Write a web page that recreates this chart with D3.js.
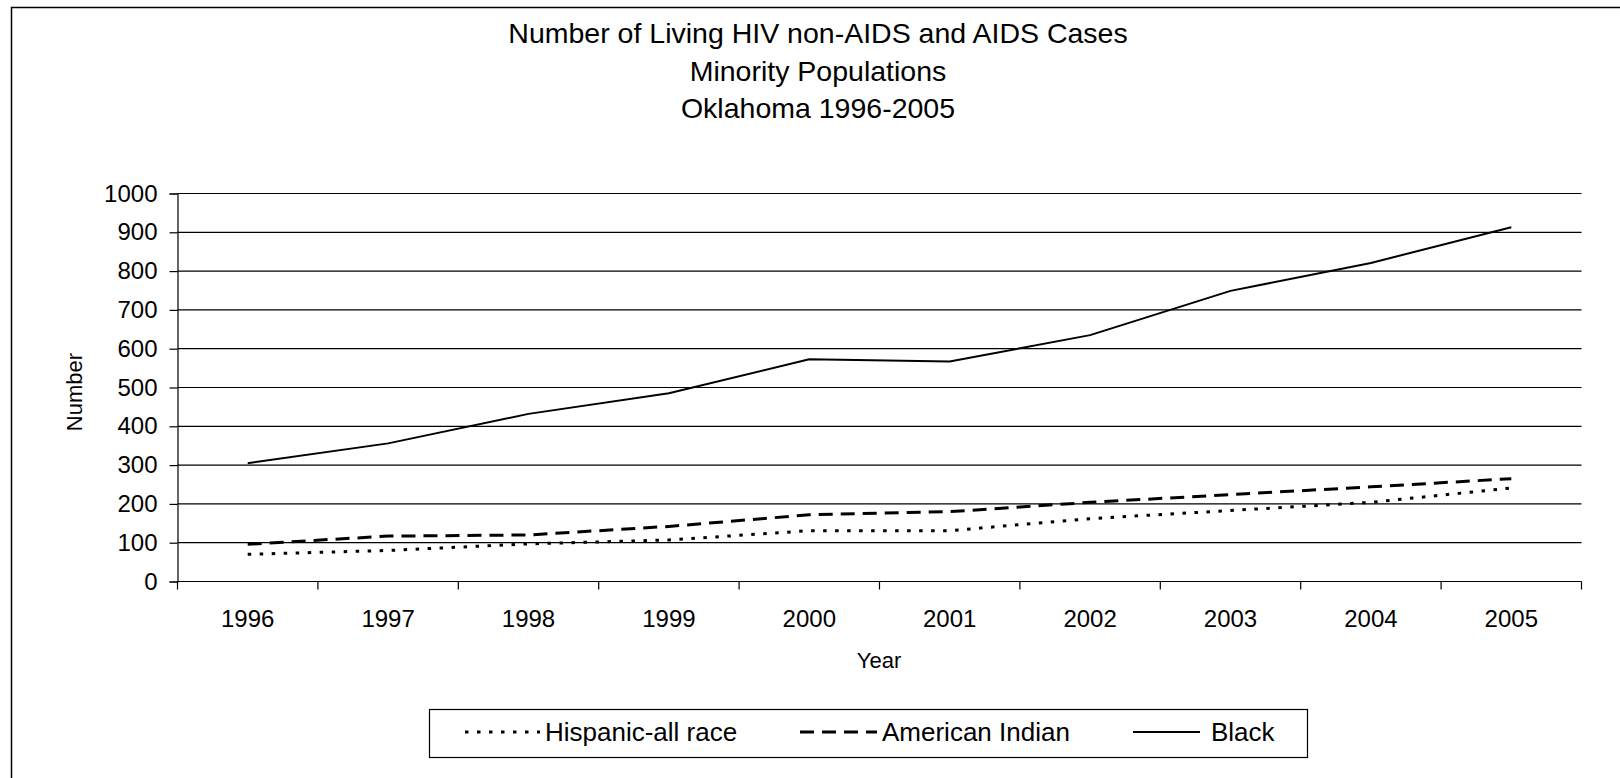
<!DOCTYPE html>
<html>
<head>
<meta charset="utf-8">
<script src="https://cdn.jsdelivr.net/npm/d3@7"></script>
<style>
  html, body { margin: 0; padding: 0; background: #fff; }
  svg { display: block; font-family: "Liberation Sans", Arial, sans-serif; }
</style>
</head>
<body>
<svg id="chart" width="1620" height="778"></svg>
<script>
// ---- data ----
const years = ["1996","1997","1998","1999","2000","2001","2002","2003","2004","2005"];
const hispanic = [70, 80, 97, 107, 131, 131, 162, 183, 204, 241];
const americanIndian = [96, 117, 120, 142, 172, 180, 204, 224, 244, 265];
const black = [305, 356, 432, 485, 573, 567, 635, 749, 821, 913];
const yTicks = [0, 100, 200, 300, 400, 500, 600, 700, 800, 900, 1000];
const titleLines = ["Number of Living HIV non-AIDS and AIDS Cases", "Minority Populations", "Oklahoma 1996-2005"];
const seriesNames = ["Hispanic-all race", "American Indian", "Black"];

(function () {
const series = [
  { name: seriesNames[0], values: hispanic, dash: "3.5,8.5", width: 3 },
  { name: seriesNames[1], values: americanIndian, dash: "14,8", width: 3 },
  { name: seriesNames[2], values: black, dash: null, width: 2 }
];

const svg = d3.select("#chart");

// outer chart area border (extends past right/bottom edges)
svg.append("rect")
  .attr("x", 11.5).attr("y", 7.5)
  .attr("width", 1640).attr("height", 800)
  .attr("fill", "#fff").attr("stroke", "#000").attr("stroke-width", 1.5);

// title
const title = svg.append("text")
  .attr("text-anchor", "middle")
  .attr("font-size", 28.5)
  .attr("fill", "#000");
titleLines.forEach((t, i) => {
  title.append("tspan").attr("x", 818).attr("y", 43 + i * 37.5).text(t);
});

const pLeft = 177.5, pRight = 1581.5, pTop = 193.5, pBottom = 581.5;

const x = d3.scaleBand().domain(years).range([pLeft, pRight]).padding(0);
const y = d3.scaleLinear().domain([0, 1000]).range([pBottom, pTop]);

// gridlines
svg.append("g")
  .selectAll("line")
  .data(yTicks.filter(d => d > 0))
  .join("line")
  .attr("x1", pLeft).attr("x2", pRight)
  .attr("y1", d => y(d)).attr("y2", d => y(d))
  .attr("stroke", "#000").attr("stroke-width", 1.2);

// y axis
const yAxis = svg.append("g")
  .attr("transform", `translate(${pLeft},0)`)
  .call(d3.axisLeft(y).tickValues(yTicks).tickSize(8).tickPadding(12).tickFormat(d3.format("d")));
yAxis.select(".domain").attr("stroke", "#000").attr("stroke-width", 1.2);
yAxis.selectAll(".tick line").attr("stroke", "#000").attr("stroke-width", 1.2);
yAxis.selectAll(".tick text").attr("font-size", 24).attr("fill", "#000")
  .attr("font-family", "Liberation Sans, Arial, sans-serif");

// x axis: ticks at band boundaries
const xAxisG = svg.append("g").attr("transform", `translate(0,${pBottom})`);
xAxisG.append("line").attr("x1", pLeft).attr("x2", pRight).attr("y1", 0).attr("y2", 0)
  .attr("stroke", "#000").attr("stroke-width", 1.2);
const boundaries = years.map(d => x(d)).concat([x(years[years.length - 1]) + x.bandwidth()]);
xAxisG.selectAll("line.tk").data(boundaries).join("line").attr("class", "tk")
  .attr("x1", d => d).attr("x2", d => d).attr("y1", 0).attr("y2", 8)
  .attr("stroke", "#000").attr("stroke-width", 1.2);
xAxisG.selectAll("text").data(years).join("text")
  .attr("x", d => x(d) + x.bandwidth() / 2)
  .attr("y", 45)
  .attr("text-anchor", "middle")
  .attr("font-size", 24).attr("fill", "#000")
  .text(d => d);

// axis titles
svg.append("text")
  .attr("x", 879).attr("y", 668)
  .attr("text-anchor", "middle").attr("font-size", 22).attr("fill", "#000")
  .text("Year");
svg.append("text")
  .attr("transform", "translate(82,392) rotate(-90)")
  .attr("text-anchor", "middle").attr("font-size", 22).attr("fill", "#000")
  .text("Number");

// lines
const line = d3.line()
  .x((d, i) => x(years[i]) + x.bandwidth() / 2)
  .y(d => y(d));
series.forEach(s => {
  svg.append("path")
    .datum(s.values)
    .attr("d", line)
    .attr("fill", "none")
    .attr("stroke", "#000")
    .attr("stroke-width", s.width)
    .attr("stroke-dasharray", s.dash)
    .attr("stroke-linejoin", "round");
});

// legend
svg.append("rect")
  .attr("x", 429.5).attr("y", 709.5).attr("width", 878).attr("height", 48)
  .attr("fill", "#fff").attr("stroke", "#000").attr("stroke-width", 1.2);
const legendItems = [
  { s: series[0], x0: 465, x1: 540, tx: 545 },
  { s: series[1], x0: 800, x1: 877, tx: 882 },
  { s: series[2], x0: 1133, x1: 1200, tx: 1211 }
];
legendItems.forEach(it => {
  svg.append("line")
    .attr("x1", it.x0).attr("x2", it.x1).attr("y1", 732).attr("y2", 732)
    .attr("stroke", "#000").attr("stroke-width", it.s.width)
    .attr("stroke-dasharray", it.s.dash);
  svg.append("text")
    .attr("x", it.tx).attr("y", 741)
    .attr("font-size", 26).attr("fill", "#000")
    .text(it.s.name);
});
})();
</script>
</body>
</html>
